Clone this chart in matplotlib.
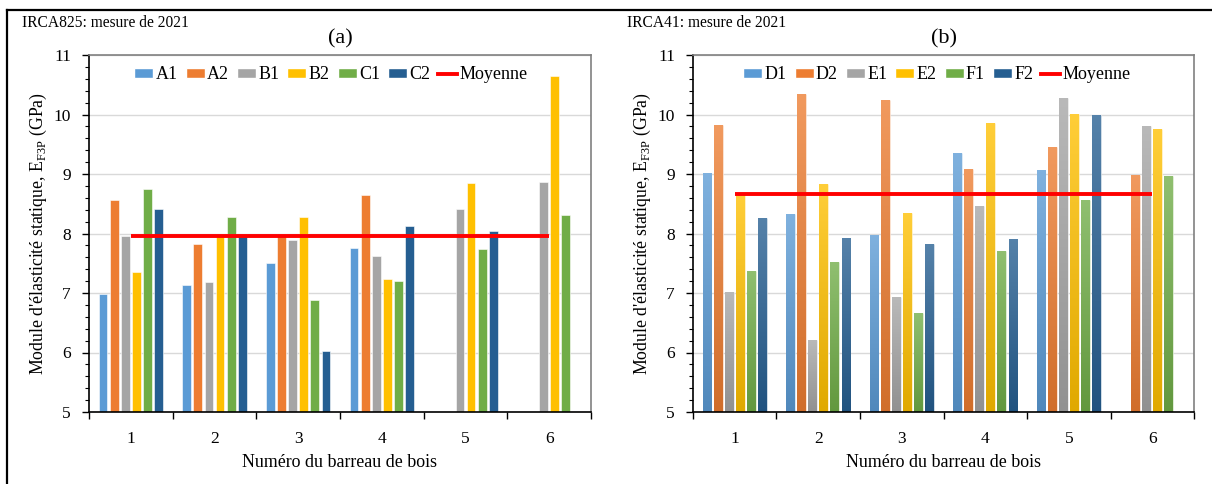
import numpy as np
import matplotlib
matplotlib.use("Agg")
import matplotlib.pyplot as plt
from matplotlib.patches import Patch
from matplotlib.lines import Line2D
from matplotlib.colors import to_rgb

plt.rcParams['font.family'] = ['Liberation Serif', 'DejaVu Serif']
plt.rcParams['mathtext.fontset'] = 'custom'
plt.rcParams['mathtext.rm'] = 'Liberation Serif'

# ---------------- data ----------------
bars = [1, 2, 3, 4, 5, 6]
nan = np.nan

series_a = ["A1", "A2", "B1", "B2", "C1", "C2"]
A1 = [6.99, 7.13, 7.51, 7.76, nan, nan]
A2 = [8.56, 7.82, 7.99, 8.65, nan, nan]
B1 = [7.96, 7.18, 7.89, 7.62, 8.41, 8.87]
B2 = [7.36, 8.00, 8.28, 7.23, 8.85, 10.64]
C1 = [8.75, 8.27, 6.88, 7.20, 7.74, 8.31]
C2 = [8.42, 7.95, 6.03, 8.13, 8.05, nan]
mean_a = 7.95

series_b = ["D1", "D2", "E1", "E2", "F1", "F2"]
D1 = [9.01, 8.32, 7.97, 9.36, 9.06, nan]
D2 = [9.82, 10.35, 10.25, 9.09, 9.46, 8.98]
E1 = [7.01, 6.21, 6.93, 8.47, 10.27, 9.80]
E2 = [8.66, 8.84, 8.34, 9.85, 10.01, 9.75]
F1 = [7.37, 7.52, 6.66, 7.70, 8.57, 8.96]
F2 = [8.26, 7.92, 7.82, 7.90, 10.00, nan]
mean_b = 8.66

colors = ["#5B9BD5", "#ED7D31", "#A5A5A5", "#FFC000", "#70AD47", "#255E91"]

title_a = "(a)"
title_b = "(b)"
note_a = "IRCA825: mesure de 2021"
note_b = "IRCA41: mesure de 2021"
ylabel = "Module d'élasticité statique, E$_{\\mathregular{F3P}}$ (GPa)"
xlabel = "Numéro du barreau de bois"

# ---------------- figure ----------------
fig = plt.figure(figsize=(12.12, 4.84), dpi=100)
W, H = 1212, 484

def axes_px(x0, x1, y0, y1):
    return fig.add_axes([x0 / W, 1 - y1 / H, (x1 - x0) / W, (y1 - y0) / H])

ax_a = axes_px(89, 591, 55, 412)
ax_b = axes_px(693, 1194, 55, 412)


def lighten(c, f):
    r = np.array(to_rgb(c))
    return r + (1 - r) * f


def darken(c, f):
    return np.array(to_rgb(c)) * f


def draw(ax, names, data, mean, gradient, leg_x):
    x = np.array(bars, dtype=float)
    n = len(names)
    slot = 0.133
    width = 0.106
    handles = []
    for i, (name, vals, col) in enumerate(zip(names, data, colors)):
        xs = x + (i - (n - 1) / 2) * slot
        vals = np.array(vals, dtype=float)
        rects = ax.bar(xs, vals - 5, bottom=5, width=width, color=col,
                       edgecolor="white", linewidth=0.4, zorder=2)
        if gradient:
            top = lighten(col, 0.22)
            bot = darken(col, 0.88)
            grad = np.linspace(0, 1, 64)[:, None, None]
            img = (bot * (1 - grad) + top * grad)
            for r, v in zip(rects, vals):
                if np.isnan(v):
                    continue
                x0 = r.get_x()
                im = ax.imshow(img, extent=[x0, x0 + r.get_width(), 5, v],
                               origin="lower", aspect="auto", zorder=2.1,
                               interpolation="bilinear")
                im.set_clip_path(r)
        handles.append(Patch(facecolor=col, edgecolor="white", label=name))
    ax.plot([bars[0], bars[-1]], [mean, mean], color="#FF0000", lw=2.8,
            zorder=3, solid_capstyle="butt")
    handles.append(Line2D([], [], color="#FF0000", lw=2.8, label="Moyenne"))

    ax.set_xlim(0.5, 6.5)
    ax.set_ylim(5, 11)
    ax.set_xticks(bars)
    ax.set_xticklabels([str(b) for b in bars], fontsize=12.5)
    ax.set_xticks(np.arange(0.5, 7, 1), minor=True)
    ax.tick_params(axis="x", which="major", length=0, pad=14)
    ax.tick_params(axis="x", which="minor", length=5, width=1, direction="out")
    ax.set_yticks(np.arange(5, 11.1, 1))
    ax.set_yticklabels([str(v) for v in range(5, 12)], fontsize=12.5)
    ax.set_yticks(np.arange(5, 11.01, 0.2), minor=True)
    ax.tick_params(axis="y", which="major", length=5, width=1, direction="out", pad=8)
    ax.tick_params(axis="y", which="minor", length=3, width=0.8, direction="out")
    ax.grid(axis="y", which="major", color="#D9D9D9", lw=1, zorder=0)
    ax.set_axisbelow(True)
    for s in ["top", "right"]:
        ax.spines[s].set_color("#808080")
        ax.spines[s].set_linewidth(1.2)
    for s in ["left", "bottom"]:
        ax.spines[s].set_color("#000000")
        ax.spines[s].set_linewidth(1.2)
    ax.set_ylabel(ylabel, fontsize=12.8, labelpad=3)
    ax.set_xlabel(xlabel, fontsize=12.9, labelpad=5)
    ax.legend(handles=handles, loc="center", bbox_to_anchor=(leg_x, 0.944),
              ncol=7, frameon=False, fontsize=13, handlelength=1.05,
              handleheight=0.5, handletextpad=0.12, columnspacing=0.45,
              borderaxespad=0)


draw(ax_a, series_a, [A1, A2, B1, B2, C1, C2], mean_a, gradient=False, leg_x=0.482)
draw(ax_b, series_b, [D1, D2, E1, E2, F1, F2], mean_b, gradient=True, leg_x=0.487)

ax_a.set_title(title_a, fontsize=16, pad=8)
ax_b.set_title(title_b, fontsize=16, pad=8)
fig.text(22 / W, 1 - 23 / H, note_a, fontsize=11.2, va="center", ha="left")
fig.text(627 / W, 1 - 23 / H, note_b, fontsize=11.2, va="center", ha="left")

# outer frame lines (top and left)
fig.add_artist(Line2D([7 / W, 1], [1 - 10 / H, 1 - 10 / H], color="black", lw=1.6,
                      transform=fig.transFigure))
fig.add_artist(Line2D([7 / W, 7 / W], [0, 1 - 10 / H], color="black", lw=1.6,
                      transform=fig.transFigure))

fig.savefig("out.png", dpi=100)
